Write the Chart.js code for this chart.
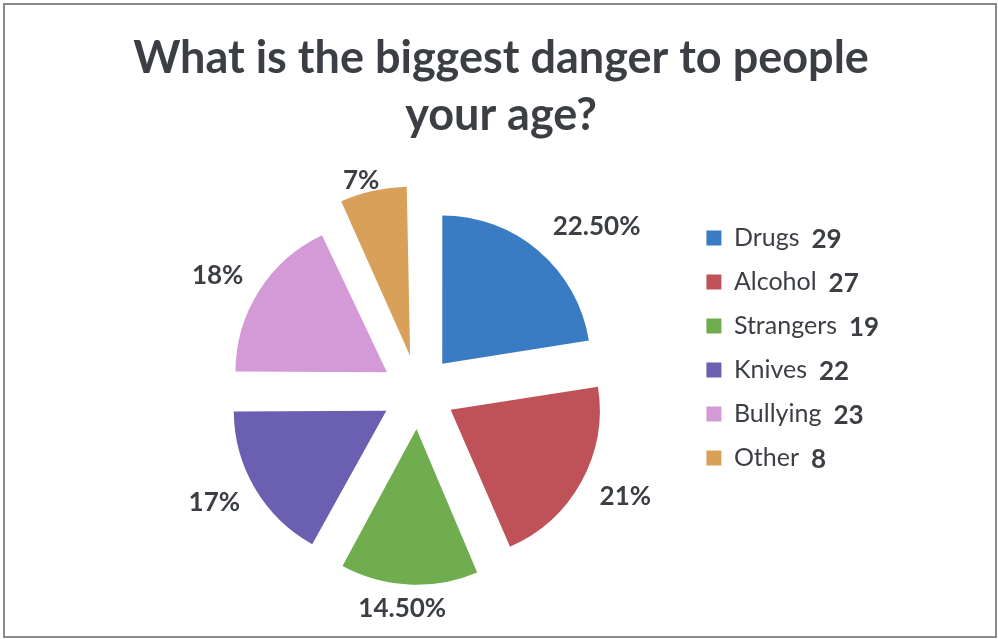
<!DOCTYPE html>
<html lang="en">
<head>
<meta charset="UTF-8">
<title>What is the biggest danger to people your age?</title>
<script src="https://cdn.jsdelivr.net/npm/chart.js"></script>
<style>
    html, body {
        margin: 0;
        padding: 0;
        background: #ffffff;
    }
    .frame {
        position: absolute;
        left: 3px;
        top: 3px;
        width: 990px;
        height: 631px;
        border: 2px solid #8a8a8a;
        background: #ffffff;
    }
    #chart {
        position: absolute;
        left: 0;
        top: 0;
    }
</style>
</head>
<body>
<div class="frame"></div>
<canvas id="chart" width="998" height="639"></canvas>
<script>
// chart data
const categories = ['Drugs', 'Alcohol', 'Strangers', 'Knives', 'Bullying', 'Other'];
const percentages = [22.5, 21, 14.5, 17, 18, 7];
const percentLabels = ['22.50%', '21%', '14.50%', '17%', '18%', '7%'];
const counts = [29, 27, 19, 22, 23, 8];
const titleLines = ['What is the biggest danger to people', 'your age?'];
const sliceColors = ['#3a7cc4', '#bf5259', '#6fad4f', '#6a5fb0', '#d49ad8', '#d9a05a'];

const textColor = '#3b3f44';

// title drawn by hand so it can be wider than the padded layout area
const chartTitle = {
    id: 'chartTitle',
    afterDraw(chart) {
        const ctx = chart.ctx;
        ctx.save();
        ctx.font = 'bold 45px Lato';
        ctx.fillStyle = textColor;
        ctx.textAlign = 'center';
        ctx.textBaseline = 'middle';
        titleLines.forEach((line, i) => {
            ctx.fillText(line, 501, 58 + i * 57);
        });
        ctx.restore();
    }
};

// percent labels outside each slice (excel style "outside end")
const outsideLabels = {
    id: 'outsideLabels',
    afterDatasetsDraw(chart) {
        const ctx = chart.ctx;
        const meta = chart.getDatasetMeta(0);
        ctx.save();
        ctx.font = 'bold 26px Lato';
        ctx.fillStyle = textColor;
        ctx.textAlign = 'center';
        ctx.textBaseline = 'middle';
        meta.data.forEach((arc, i) => {
            const p = arc.getProps(['x', 'y', 'startAngle', 'endAngle', 'outerRadius'], true);
            const mid = (p.startAngle + p.endAngle) / 2;
            const text = percentLabels[i];
            const w = ctx.measureText(text).width;
            // arc offset is drawn at a quarter of the option value in v4
            const off = (arc.options.offset || 0) / 4;
            const dist = p.outerRadius + off + 22;
            const cx = Math.cos(mid), cy = Math.sin(mid);
            const shiftX = (w / 2) * Math.max(-1, Math.min(1, cx * 3));
            const shiftY = 10 * cy;
            ctx.fillText(text, p.x + cx * dist + shiftX, p.y + cy * dist + shiftY);
        });
        ctx.restore();
    }
};

// counts next to legend names
const legendCounts = {
    id: 'legendCounts',
    afterDraw(chart) {
        const legend = chart.legend;
        if (!legend || !legend.legendHitBoxes) return;
        const ctx = chart.ctx;
        ctx.save();
        ctx.font = 'bold 26px Lato';
        ctx.fillStyle = textColor;
        ctx.textAlign = 'left';
        ctx.textBaseline = 'middle';
        legend.legendHitBoxes.forEach((box, i) => {
            ctx.fillText(String(counts[i]), box.left + box.width + 12, box.top + box.height / 2 + 2);
        });
        ctx.restore();
    }
};

new Chart(document.getElementById('chart'), {
    type: 'pie',
    data: {
        labels: categories,
        datasets: [{
            data: percentages,
            backgroundColor: sliceColors,
            borderWidth: 0,
            offset: 148,
            radius: 148
        }]
    },
    plugins: [chartTitle, outsideLabels, legendCounts],
    options: {
        responsive: false,
        animation: false,
        layout: {
            padding: { left: 149, right: 151, top: 154, bottom: 9 }
        },
        plugins: {
            title: { display: false },
            legend: {
                position: 'right',
                align: 'start',
                title: {
                    display: true,
                    text: ' ',
                    font: { size: 12 },
                    padding: { top: 38, bottom: 0 }
                },
                labels: {
                    color: textColor,
                    font: { family: 'Lato', size: 25 },
                    boxWidth: 15,
                    boxHeight: 15,
                    padding: 19
                }
            },
            tooltip: { enabled: false }
        }
    }
});
</script>
</body>
</html>
